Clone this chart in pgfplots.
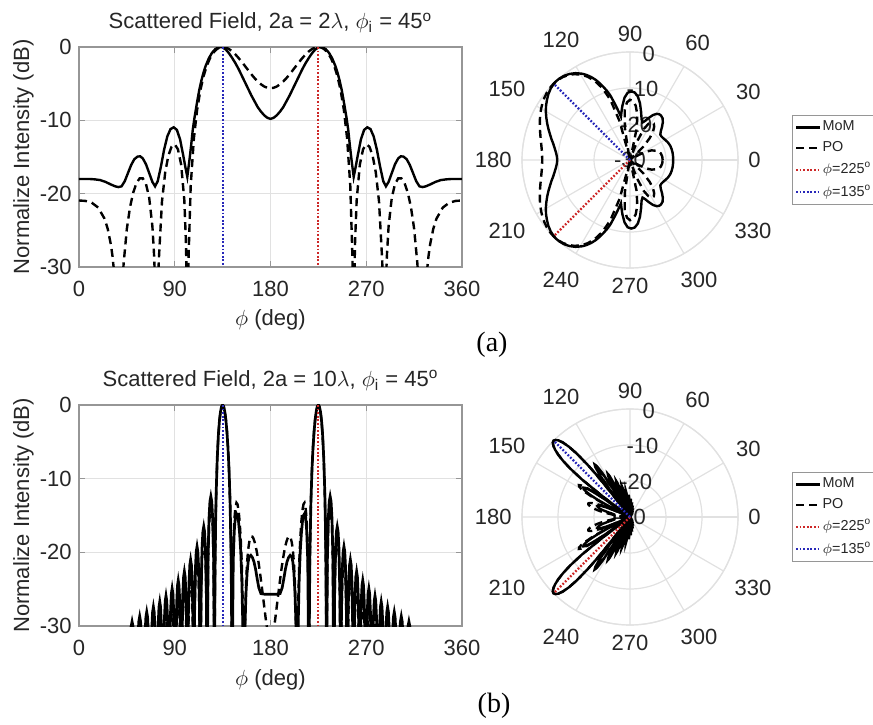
\documentclass[border=0pt]{standalone}
\usepackage{fontspec}
\setmainfont{Liberation Sans}
\newfontfamily\serifrm{Liberation Serif}
\usepackage{pgfplots}
\usepackage{pgfplotstable}
\pgfplotsset{compat=1.18}
\usepgfplotslibrary{polar}

\definecolor{tickgray}{RGB}{38,38,38}
\definecolor{gridgray}{RGB}{225,225,225}
\definecolor{axgray}{RGB}{150,150,150}
\definecolor{dotred}{RGB}{205,40,40}
\definecolor{dotblue}{RGB}{40,40,185}
\newcommand{\lblfont}{\fontsize{11}{13}\selectfont}

\pgfplotstableread{
phi db
0 -18.0
5 -18.0
10 -18.0
15 -18.05
20 -18.15
25 -18.4
30 -18.75
34 -19.0
37 -19.1
40 -19.0
43 -18.3
46 -17.2
49 -16.1
52 -15.3
55 -14.95
57.5 -14.9
60 -15.2
63 -16.0
66 -17.2
69 -18.4
71.5 -19.0
74 -18.3
77 -16.3
80 -14.0
83 -12.2
86 -11.2
89 -10.95
92 -11.3
95 -12.6
98 -14.8
100 -16.4
101.8 -17.7
104 -15.2
105.5 -13.3
107 -11.2
108.5 -9.7
110 -8.4
111.5 -7.1
113 -5.9
115 -4.6
117 -3.5
119 -2.6
122 -1.55
125 -0.8
128 -0.3
131 -0.05
133 0
135 -0.05
138 -0.35
141 -0.85
144 -1.5
147 -2.2
150 -3.0
153 -3.9
156 -4.8
159 -5.7
162 -6.6
165 -7.4
168 -8.2
171 -8.8
174 -9.3
177 -9.65
180 -9.8
183 -9.65
186 -9.3
189 -8.8
192 -8.2
195 -7.4
198 -6.6
201 -5.7
204 -4.8
207 -3.9
210 -3.0
213 -2.2
216 -1.5
219 -0.85
222 -0.35
225 -0.05
227 0
229 -0.05
232 -0.3
235 -0.8
238 -1.55
241 -2.6
243 -3.5
245 -4.6
247 -5.9
248.5 -7.1
250 -8.4
251.5 -9.7
253 -11.2
254.5 -13.3
256 -15.2
258.2 -17.7
260 -16.4
262 -14.8
265 -12.6
268 -11.3
271 -10.95
274 -11.2
277 -12.2
280 -14.0
283 -16.3
286 -18.3
288.5 -19.0
291 -18.4
294 -17.2
297 -16.0
300 -15.2
302.5 -14.9
305 -14.95
308 -15.3
311 -16.1
314 -17.2
317 -18.3
320 -19.0
323 -19.1
326 -19.0
330 -18.75
335 -18.4
340 -18.15
345 -18.05
350 -18.0
355 -18.0
360 -18.0
}\momtwo

\pgfplotstableread{
phi db
0 -20.93
6 -20.99
12 -21.24
18 -21.89
24 -23.41
27 -24.79
30 -26.96
31.5 -28.54
33 -30.69
35 -35.3
37.54 -60
40 -34.8
41.5 -30.52
42 -29.43
45 -24.77
48 -21.81
51 -19.84
54 -18.56
57 -17.91
60 -17.92
63 -18.70
66 -20.57
69 -24.48
70.5 -28.19
71 -30.05
72 -36.0
72.97 -60
74 -35.1
74.5 -31.63
75 -29.12
78 -21.06
81 -17.12
84 -14.82
87 -13.59
90 -13.27
93 -13.95
96 -16.01
99 -20.88
100.5 -26.52
101 -30.03
101.95 -60
102.5 -34.4
103 -28.65
105 -18.91
108 -12.44
111 -8.60
114 -5.96
117 -4.03
120 -2.61
123 -1.56
126 -0.83
129 -0.35
132 -0.08
135 0
138 -0.07
141 -0.28
144 -0.60
147 -1.01
150 -1.50
153 -2.03
156 -2.59
159 -3.16
162 -3.72
165 -4.24
168 -4.70
171 -5.08
174 -5.38
177 -5.56
180 -5.62
183 -5.56
186 -5.38
189 -5.08
192 -4.70
195 -4.24
198 -3.72
201 -3.16
204 -2.59
207 -2.03
210 -1.50
213 -1.01
216 -0.60
219 -0.28
222 -0.07
225 0
228 -0.08
231 -0.35
234 -0.83
237 -1.56
240 -2.61
243 -4.03
246 -5.96
249 -8.60
252 -12.44
255 -18.91
257 -28.65
257.5 -34.4
258.05 -60
259 -30.03
259.5 -26.52
261 -20.88
264 -16.01
267 -13.95
270 -13.27
273 -13.59
276 -14.82
279 -17.12
282 -21.06
285 -29.12
285.5 -31.63
286 -35.1
287.03 -60
288 -36.0
289 -30.05
289.5 -28.19
291 -24.48
294 -20.57
297 -18.70
300 -17.92
303 -17.91
306 -18.56
309 -19.84
312 -21.81
315 -24.77
318 -29.43
318.5 -30.52
320 -34.8
322.46 -60
325 -35.3
327 -30.69
328.5 -28.54
330 -26.96
333 -24.79
336 -23.41
342 -21.89
348 -21.24
354 -20.99
360 -20.93
}\potwo

\pgfplotstableread{
phi db
0 -40
46.14 -40
47.08 -37.7
48.02 -32.4
48.95 -30.1
49.89 -29.4
50.83 -30.1
51.77 -32.4
52.70 -37.7
53.64 -40
54.49 -37.0
55.35 -31.7
56.20 -29.4
57.06 -28.7
57.91 -29.4
58.76 -31.7
59.62 -37.0
60.47 -40
61.27 -36.4
62.07 -31.1
62.87 -28.8
63.67 -28.1
64.47 -28.8
65.27 -31.1
66.07 -36.4
66.87 -40
67.63 -35.7
68.40 -30.4
69.16 -28.1
69.92 -27.4
70.68 -28.1
71.45 -30.4
72.21 -35.7
72.97 -40
73.71 -35.0
74.45 -29.7
75.19 -27.4
75.93 -26.7
76.66 -27.4
77.40 -29.7
78.14 -35.0
78.88 -40
79.60 -34.2
80.33 -28.9
81.05 -26.6
81.78 -25.9
82.50 -26.6
83.22 -28.9
83.95 -34.2
84.67 -40
85.39 -33.2
86.11 -27.9
86.82 -25.6
87.54 -24.9
88.26 -25.6
88.98 -27.9
89.69 -33.2
90.41 -40
91.13 -32.1
91.85 -26.8
92.56 -24.5
93.28 -23.8
94.00 -24.5
94.72 -26.8
95.43 -32.1
96.15 -40
96.88 -30.9
97.60 -25.6
98.33 -23.3
99.05 -22.6
99.78 -23.3
100.50 -25.6
101.23 -30.9
101.95 -40
102.69 -29.3
103.44 -24.0
104.18 -21.7
104.92 -21.0
105.66 -21.7
106.41 -24.0
107.15 -29.3
107.89 -40
108.66 -27.5
109.42 -22.2
110.19 -19.9
110.96 -19.2
111.72 -19.9
112.49 -22.2
113.25 -27.5
114.02 -40
114.83 -24.8
115.63 -19.5
116.44 -17.2
117.25 -16.5
118.05 -17.2
118.86 -19.5
119.66 -24.8
120.47 -40
121.33 -20.7
122.20 -15.4
123.06 -13.1
123.93 -12.4
124.79 -13.1
125.66 -15.4
126.52 -20.7
127.38 -40
127.7 -26.7
128 -20.66
128.5 -15.14
129 -11.62
130 -7.02
131 -4.11
132 -2.17
133 -0.92
134 -0.22
135 0
136 -0.21
137 -0.86
138 -1.94
139 -3.52
140 -5.70
141 -8.70
142 -13.07
143 -20.73
143.5 -29.5
143.8 -40
145 -21.0
146 -17.0
147 -15.1
147.8 -14.7
149 -15.0
150 -15.9
151 -17.5
152 -19.8
153 -23.5
154 -30
154.8 -42
156 -30
157 -25.5
158 -22.8
159 -21.3
160 -20.6
161.5 -20.4
163 -20.7
164.5 -21.3
166 -22.3
167.5 -23.6
169 -24.8
171 -25.6
175 -25.7
180 -25.7
185 -25.7
189 -25.6
191 -24.8
192.5 -23.6
194 -22.3
195.5 -21.3
197 -20.7
198.5 -20.4
200 -20.6
201 -21.3
202 -22.8
203 -25.5
204 -30
205.2 -42
206 -30
207 -23.5
208 -19.8
209 -17.5
210 -15.9
211 -15.0
212.2 -14.7
213 -15.1
214 -17.0
215 -21.0
216.2 -40
216.5 -29.5
217 -20.73
218 -13.07
219 -8.70
220 -5.70
221 -3.52
222 -1.94
223 -0.86
224 -0.21
225 0
226 -0.22
227 -0.92
228 -2.17
229 -4.11
230 -7.02
231 -11.62
231.5 -15.14
232 -20.66
232.3 -26.7
232.62 -40
233.48 -20.7
234.34 -15.4
235.21 -13.1
236.07 -12.4
236.94 -13.1
237.80 -15.4
238.67 -20.7
239.53 -40
240.34 -24.8
241.14 -19.5
241.95 -17.2
242.75 -16.5
243.56 -17.2
244.37 -19.5
245.17 -24.8
245.98 -40
246.75 -27.5
247.51 -22.2
248.28 -19.9
249.04 -19.2
249.81 -19.9
250.58 -22.2
251.34 -27.5
252.11 -40
252.85 -29.3
253.59 -24.0
254.34 -21.7
255.08 -21.0
255.82 -21.7
256.56 -24.0
257.31 -29.3
258.05 -40
258.77 -30.9
259.50 -25.6
260.22 -23.3
260.95 -22.6
261.67 -23.3
262.40 -25.6
263.12 -30.9
263.85 -40
264.57 -32.1
265.28 -26.8
266.00 -24.5
266.72 -23.8
267.44 -24.5
268.15 -26.8
268.87 -32.1
269.59 -40
270.31 -33.2
271.02 -27.9
271.74 -25.6
272.46 -24.9
273.18 -25.6
273.89 -27.9
274.61 -33.2
275.33 -40
276.05 -34.2
276.78 -28.9
277.50 -26.6
278.22 -25.9
278.95 -26.6
279.67 -28.9
280.40 -34.2
281.12 -40
281.86 -35.0
282.60 -29.7
283.34 -27.4
284.07 -26.7
284.81 -27.4
285.55 -29.7
286.29 -35.0
287.03 -40
287.79 -35.7
288.55 -30.4
289.32 -28.1
290.08 -27.4
290.84 -28.1
291.60 -30.4
292.37 -35.7
293.13 -40
293.93 -36.4
294.73 -31.1
295.53 -28.8
296.33 -28.1
297.13 -28.8
297.93 -31.1
298.73 -36.4
299.53 -40
300.38 -37.0
301.24 -31.7
302.09 -29.4
302.94 -28.7
303.80 -29.4
304.65 -31.7
305.51 -37.0
306.36 -40
307.30 -37.7
308.23 -32.4
309.17 -30.1
310.11 -29.4
311.05 -30.1
311.98 -32.4
312.92 -37.7
313.86 -40
360 -40
}\momten

\pgfplotstableread{
phi db
0 -40
72.97 -40
73.71 -37.75
74.45 -32.45
75.93 -29.45
77.40 -32.45
78.14 -37.75
78.88 -40
79.60 -36.8
80.33 -31.5
81.78 -28.5
83.22 -31.5
83.95 -36.8
84.67 -40
85.39 -35.7
86.11 -30.4
87.54 -27.4
88.98 -30.4
89.69 -35.7
90.41 -40
91.13 -34.5
91.85 -29.2
93.28 -26.2
94.72 -29.2
95.43 -34.5
96.15 -40
96.88 -33.1
97.60 -27.8
99.05 -24.8
100.50 -27.8
101.23 -33.1
101.95 -40
102.69 -31.35
103.44 -26.05
104.92 -23.05
106.41 -26.05
107.15 -31.35
107.89 -40
108.66 -29.1
109.42 -23.8
110.96 -20.8
112.49 -23.8
113.25 -29.1
114.02 -40
114.83 -26.1
115.63 -20.8
117.25 -17.8
118.86 -20.8
119.66 -26.1
120.47 -40
121.33 -21.6
122.20 -16.3
123.93 -13.3
125.66 -16.3
126.52 -21.6
127.38 -40
127.7 -26.7
128 -20.66
128.5 -15.14
129 -11.62
130 -7.02
131 -4.11
132 -2.17
133 -0.92
134 -0.22
135 0
136 -0.21
137 -0.86
138 -1.94
139 -3.52
140 -5.70
141 -8.70
142 -13.07
143 -20.73
143.5 -29.5
143.8 -40
144 -34.6
144.5 -23.74
145 -19.58
146 -15.60
147 -13.93
148 -13.27
149 -13.47
150 -14.32
151 -15.80
152 -18.10
153 -21.51
154 -27.37
154.5 -32.8
155.1 -40
156 -30.2
157 -24.27
158 -21.35
159 -19.65
160 -18.64
161 -18.06
162 -17.83
163 -17.87
164 -18.13
165 -18.55
166 -19.12
167 -19.83
168 -20.66
169 -21.59
170 -22.61
172 -24.86
174 -27.23
176 -29.58
178 -31.38
180 -32.3
182 -31.38
184 -29.58
186 -27.23
188 -24.86
190 -22.61
191 -21.59
192 -20.66
193 -19.83
194 -19.12
195 -18.55
196 -18.13
197 -17.87
198 -17.83
199 -18.06
200 -18.64
201 -19.65
202 -21.35
203 -24.27
204 -30.2
204.9 -40
205.5 -32.8
206 -27.37
207 -21.51
208 -18.10
209 -15.80
210 -14.32
211 -13.47
212 -13.27
213 -13.93
214 -15.60
215 -19.58
215.5 -23.74
216 -34.6
216.2 -40
216.5 -29.5
217 -20.73
218 -13.07
219 -8.70
220 -5.70
221 -3.52
222 -1.94
223 -0.86
224 -0.21
225 0
226 -0.22
227 -0.92
228 -2.17
229 -4.11
230 -7.02
231 -11.62
231.5 -15.14
232 -20.66
232.3 -26.7
232.62 -40
233.48 -21.6
234.34 -16.3
236.07 -13.3
237.80 -16.3
238.67 -21.6
239.53 -40
240.34 -26.1
241.14 -20.8
242.75 -17.8
244.37 -20.8
245.17 -26.1
245.98 -40
246.75 -29.1
247.51 -23.8
249.04 -20.8
250.58 -23.8
251.34 -29.1
252.11 -40
252.85 -31.35
253.59 -26.05
255.08 -23.05
256.56 -26.05
257.31 -31.35
258.05 -40
258.77 -33.1
259.50 -27.8
260.95 -24.8
262.40 -27.8
263.12 -33.1
263.85 -40
264.57 -34.5
265.28 -29.2
266.72 -26.2
268.15 -29.2
268.87 -34.5
269.59 -40
270.31 -35.7
271.02 -30.4
272.46 -27.4
273.89 -30.4
274.61 -35.7
275.33 -40
276.05 -36.8
276.78 -31.5
278.22 -28.5
279.67 -31.5
280.40 -36.8
281.12 -40
281.86 -37.75
282.60 -32.45
284.07 -29.45
285.55 -32.45
286.29 -37.75
287.03 -40
360 -40
}\poten

\tikzset{rlab/.style={font=\lblfont, text=tickgray, inner sep=0pt}}

\pgfplotsset{
  cart/.style={
    scale only axis, width=191.5pt,
    xmin=0, xmax=360, ymin=-30, ymax=0,
    xtick={0,90,180,270,360}, xticklabels={0,90,180,270,360},
    ytick={-30,-20,-10,0}, yticklabels={-30,-20,-10,0},
    grid=major, major grid style={draw=gridgray, line width=0.6pt},
    axis line style={draw=axgray, line width=0.6pt},
    tick style={draw=axgray, line width=0.6pt}, major tick length=3pt, tick align=inside,
    xticklabel style={font=\lblfont, text=tickgray, anchor=base, inner sep=0pt, yshift=-14.8pt},
    yticklabel style={font=\lblfont, text=tickgray, anchor=east, inner sep=0pt, xshift=-3.5pt},
  },
  pol/.style={
    scale only axis, width=108pt, height=108pt,
    ymin=0, ymax=30, clip=false,
    xtick={0,30,...,330}, xticklabels={0,30,60,90,120,150,180,210,240,270,300,330},
    ytick={10,20,30}, yticklabels={},
    grid=major, major grid style={draw=gridgray, line width=0.6pt},
    axis line style={draw=gridgray, line width=0.6pt},
    major tick length=0pt,
    xticklabel style={font=\lblfont, text=tickgray, inner sep=5pt},
    legend style={at={(1.25,0.5)}, anchor=west, draw=axgray, font=\fontsize{7.2}{8.5}\selectfont, text=tickgray, inner xsep=1.2pt, inner ysep=2pt, row sep=2.5pt, nodes={inner sep=0.7pt}},
    legend cell align=left,
    legend image code/.code={\draw[##1] (0pt,0pt) -- (12pt,0pt);},
  },
  momst/.style={black, line width=1.2pt},
  momthick/.style={black, line width=1.35pt},
  post/.style={black, line width=1.2pt, dash pattern=on 4pt off 2.5pt},
  redst/.style={dotred, line width=1.1pt, dash pattern=on 0.9pt off 0.9pt},
  bluest/.style={dotblue, line width=1.1pt, dash pattern=on 0.9pt off 0.9pt},
}

\begin{document}
\begin{tikzpicture}
\useasboundingbox (0,0) rectangle (436.5pt,362pt);

% ---------- (a) cartesian ----------
\begin{axis}[cart, at={(39.5pt,228.5pt)}, anchor=south west, height=110pt]
\addplot[momst] table[x=phi,y=db]{\momtwo};
\addplot[post] table[x=phi,y=db]{\potwo};
\addplot[redst] coordinates {(225,0) (225,-30)};
\addplot[bluest] coordinates {(135,0) (135,-30)};
\end{axis}

% ---------- (a) polar ----------
\begin{polaraxis}[pol, at={(315pt,282pt)}, anchor=center]
\node[rlab] at (axis cs:80,30) {0};
\node[rlab] at (axis cs:80,20) {-10};
\node[rlab] at (axis cs:80,10) {-20};
\node[rlab] at (axis cs:80,0) {-30};
\addplot[momst] table[x=phi,y expr={max(\thisrow{db}+30,0)}]{\momtwo};
\addplot[post] table[x=phi,y expr={max(\thisrow{db}+30,0)}]{\potwo};
\addplot[redst] coordinates {(225,0) (225,30)};
\addplot[bluest] coordinates {(135,0) (135,30)};
\legend{MoM,PO,$\phi$=225\textsuperscript{o},$\phi$=135\textsuperscript{o}}
\end{polaraxis}

% ---------- (b) cartesian ----------
\begin{axis}[cart, at={(39.5pt,49pt)}, anchor=south west, height=110.5pt]
\addplot[momthick] table[x=phi,y=db]{\momten};
\addplot[post] table[x=phi,y=db]{\poten};
\addplot[redst] coordinates {(225,0) (225,-30)};
\addplot[bluest] coordinates {(135,0) (135,-30)};
\end{axis}

% ---------- (b) polar ----------
\begin{polaraxis}[pol, at={(315pt,103.5pt)}, anchor=center]
\node[rlab] at (axis cs:80,30) {0};
\node[rlab] at (axis cs:80,20) {-10};
\node[rlab] at (axis cs:80,10) {-20};
\node[rlab] at (axis cs:80,0) {-30};
\addplot[momst] table[x=phi,y expr={max(\thisrow{db}+30,0)}]{\momten};
\addplot[post] table[x=phi,y expr={max(\thisrow{db}+30,0)}]{\poten};
\addplot[redst] coordinates {(225,0) (225,30)};
\addplot[bluest] coordinates {(135,0) (135,30)};
\legend{MoM,PO,$\phi$=225\textsuperscript{o},$\phi$=135\textsuperscript{o}}
\end{polaraxis}

% ---------- titles and labels ----------
\node[font=\lblfont, text=tickgray, anchor=base] at (135.25pt,347.5pt) {Scattered Field, 2a = 2$\lambda$, $\phi$\textsubscript{i} = 45\textsuperscript{o}};
\node[font=\lblfont, text=tickgray, anchor=base] at (135.25pt,168.6pt) {Scattered Field, 2a = 10$\lambda$, $\phi$\textsubscript{i} = 45\textsuperscript{o}};
\node[font=\lblfont, text=tickgray, anchor=base] at (135.25pt,199pt) {$\phi$ (deg)};
\node[font=\lblfont, text=tickgray, anchor=base] at (135.25pt,19.5pt) {$\phi$ (deg)};
\node[font=\lblfont, text=tickgray, rotate=90, anchor=base] at (14.5pt,283.5pt) {Normalize Intensity (dB)};
\node[font=\lblfont, text=tickgray, rotate=90, anchor=base] at (14.5pt,104.25pt) {Normalize Intensity (dB)};
\node[font=\serifrm\fontsize{14}{16}\selectfont] at (246pt,189.5pt) {(a)};
\node[font=\serifrm\fontsize{14}{16}\selectfont] at (247pt,9pt) {(b)};
\end{tikzpicture}
\end{document}
